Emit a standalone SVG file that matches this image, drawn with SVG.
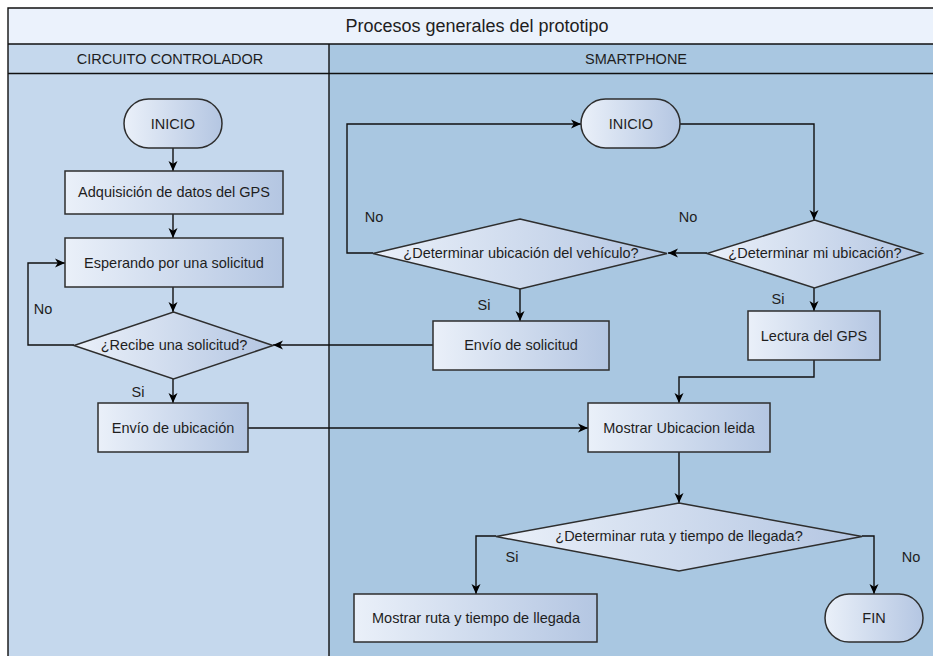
<svg xmlns="http://www.w3.org/2000/svg" width="933" height="656" viewBox="0 0 933 656">
  <defs>
    <linearGradient id="nodeFill" x1="0" y1="0" x2="1" y2="0">
      <stop offset="0" stop-color="#eaf0f9"/>
      <stop offset="1" stop-color="#b4c6e2"/>
    </linearGradient>
    <marker id="arrow" markerUnits="userSpaceOnUse" markerWidth="11" markerHeight="10" refX="10" refY="5" orient="auto">
      <path d="M0,0.5 L10,5 L0,9.5 L2.8,5 Z" fill="#000"/>
    </marker>
    <style>
      .lane-line { fill: none; stroke: #111; stroke-width: 1.4; }
      .node { fill: url(#nodeFill); stroke: #2e2e2e; stroke-width: 1.5; }
      .lbl { font-family: "Liberation Sans", Arial, Helvetica, sans-serif; font-size: 14.5px; fill: #1e1e1e; text-anchor: middle; }
      .title { font-size: 18px; }
      .edge { fill: none; stroke: #111; stroke-width: 1.4; marker-end: url(#arrow); }
      .edge-plain { fill: none; stroke: #111; stroke-width: 1.4; }
    </style>
  </defs>

  <rect width="933" height="656" fill="#ffffff"/>

  <!-- pool: title bar and two lanes -->
  <g id="pool">
    <rect x="8" y="8" width="938" height="36" fill="#ebf2fc"/>
    <rect x="8" y="44" width="321" height="620" fill="#c5d8ed"/>
    <rect x="329" y="44" width="617" height="620" fill="#a9c7e1"/>
    <path class="lane-line" d="M8,664 V8 H946 M8,44 H946 M8,73.5 H946 M329,44 V664"/>
    <text class="lbl title" x="477" y="32">Procesos generales del prototipo</text>
    <text class="lbl" x="170" y="64">CIRCUITO CONTROLADOR</text>
    <text class="lbl" x="636" y="64">SMARTPHONE</text>
  </g>

  <!-- connectors -->
  <g id="connectors">
    <path class="edge" d="M173,148 V171"/>
    <path class="edge" d="M173,214 V238"/>
    <path class="edge" d="M173,287 V312"/>
    <path class="edge" d="M74,345 H28 V263 H65"/>
    <path class="edge" d="M173,379 V403"/>
    <path class="edge" d="M248,428 H588"/>
    <path class="edge" d="M433,345 H273"/>
    <path class="edge" d="M680,124 H814 V220"/>
    <path class="edge" d="M707,253 H668"/>
    <path class="edge" d="M373,253 H347 V124 H581"/>
    <path class="edge" d="M520,289 V321"/>
    <path class="edge" d="M814,288 V311"/>
    <path class="edge" d="M814,360 V377 H679 V403"/>
    <path class="edge" d="M679,452 V503"/>
    <path class="edge" d="M496,536 H476 V594"/>
    <path class="edge" d="M862,536 H874 V594"/>

    <text class="lbl" x="43" y="314">No</text>
    <text class="lbl" x="138" y="397">Si</text>
    <text class="lbl" x="374" y="222">No</text>
    <text class="lbl" x="484" y="310">Si</text>
    <text class="lbl" x="688" y="222">No</text>
    <text class="lbl" x="778" y="304">Si</text>
    <text class="lbl" x="512" y="562">Si</text>
    <text class="lbl" x="911" y="562">No</text>
  </g>

  <!-- controller lane -->
  <g id="inicio-controlador">
    <rect class="node" x="124" y="99" width="98" height="49" rx="24.5"/>
    <text class="lbl" x="173" y="129">INICIO</text>
  </g>
  <g id="adquisicion-gps">
    <rect class="node" x="65" y="171" width="218" height="43"/>
    <text class="lbl" x="174" y="197">Adquisición de datos del GPS</text>
  </g>
  <g id="esperando-solicitud">
    <rect class="node" x="65" y="238" width="218" height="49"/>
    <text class="lbl" x="174" y="268">Esperando por una solicitud</text>
  </g>
  <g id="recibe-solicitud">
    <polygon class="node" points="173.5,312 273,345.5 173.5,379 74,345.5"/>
    <text class="lbl" x="174" y="350">¿Recibe una solicitud?</text>
  </g>
  <g id="envio-ubicacion">
    <rect class="node" x="98" y="403" width="150" height="49"/>
    <text class="lbl" x="173" y="433">Envío de ubicación</text>
  </g>

  <!-- smartphone lane -->
  <g id="inicio-smartphone">
    <rect class="node" x="581" y="99" width="99" height="49" rx="24.5"/>
    <text class="lbl" x="631" y="129">INICIO</text>
  </g>
  <g id="determinar-vehiculo">
    <polygon class="node" points="520,219 667,253.5 520,289 373,253.5"/>
    <text class="lbl" x="521" y="258">¿Determinar ubicación del vehículo?</text>
  </g>
  <g id="determinar-mi-ubicacion">
    <polygon class="node" points="814.5,220 922,253.5 814.5,288 707,253.5"/>
    <text class="lbl" x="815" y="258">¿Determinar mi ubicación?</text>
  </g>
  <g id="envio-solicitud">
    <rect class="node" x="433" y="321" width="176" height="49"/>
    <text class="lbl" x="521" y="350">Envío de solicitud</text>
  </g>
  <g id="lectura-gps">
    <rect class="node" x="748" y="311" width="132" height="49"/>
    <text class="lbl" x="814" y="341">Lectura del GPS</text>
  </g>
  <g id="mostrar-ubicacion">
    <rect class="node" x="588" y="403" width="182" height="49"/>
    <text class="lbl" x="679" y="433">Mostrar Ubicacion leida</text>
  </g>
  <g id="determinar-ruta">
    <polygon class="node" points="679,503 862,536.5 679,571 496,536.5"/>
    <text class="lbl" x="679" y="541">¿Determinar ruta y tiempo de llegada?</text>
  </g>
  <g id="mostrar-ruta">
    <rect class="node" x="354" y="594" width="243" height="48"/>
    <text class="lbl" x="476" y="623">Mostrar ruta y tiempo de llegada</text>
  </g>
  <g id="fin">
    <rect class="node" x="825" y="594" width="98" height="48" rx="24"/>
    <text class="lbl" x="874" y="623">FIN</text>
  </g>
</svg>
